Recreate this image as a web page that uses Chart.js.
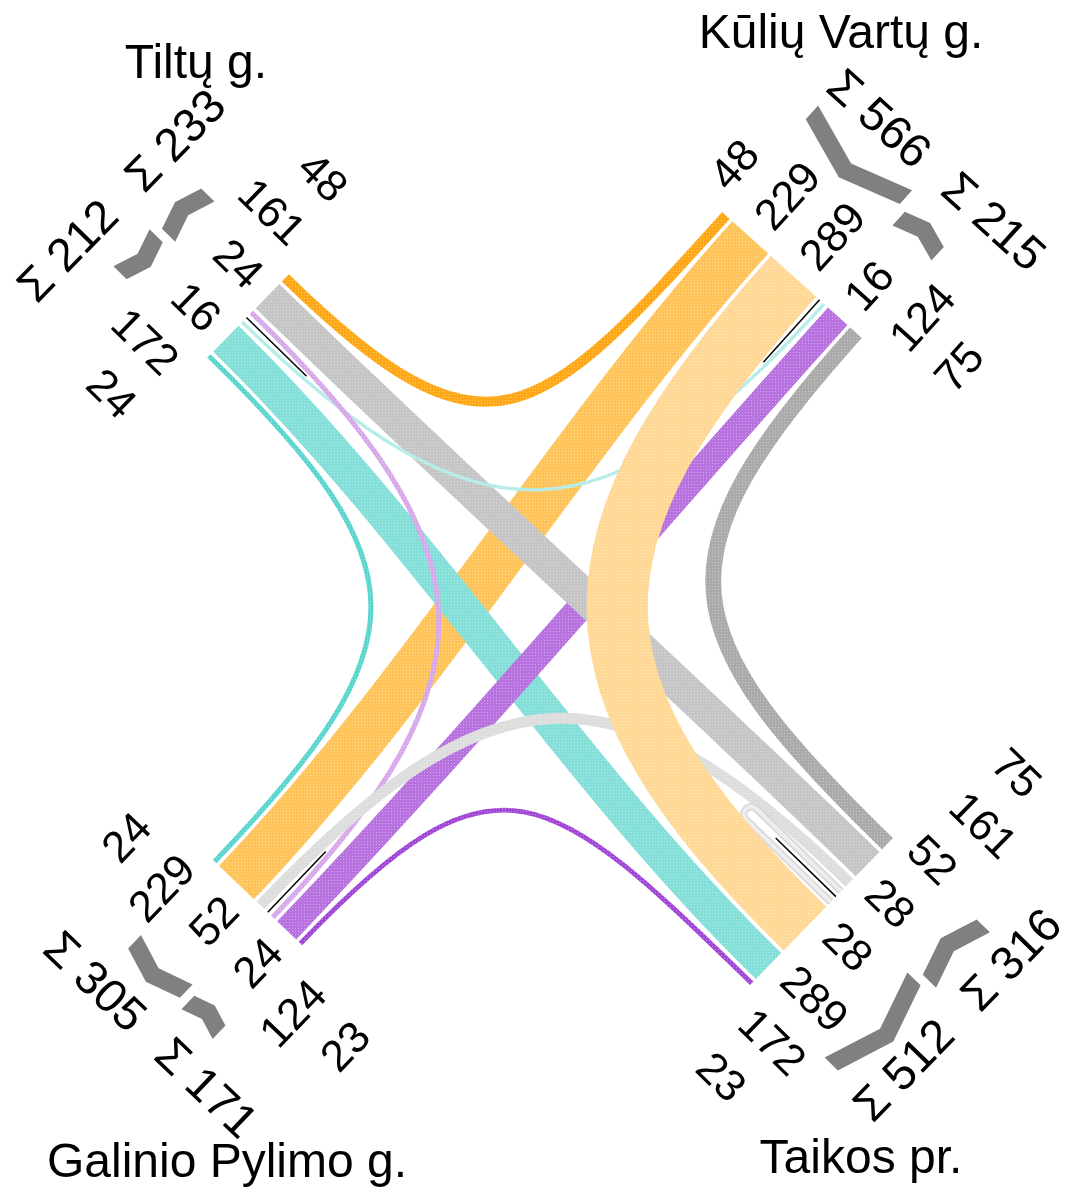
<!DOCTYPE html>
<html>
<head>
<meta charset="utf-8">
<title>Sankryžos srautai</title>
<script src="https://cdn.jsdelivr.net/npm/chart.js@4.4.1/dist/chart.umd.min.js"></script>
<style>
  html, body { margin: 0; padding: 0; background: #fff; }
  canvas { display: block; }
</style>
</head>
<body>
<canvas id="flows" width="1073" height="1192"></canvas>
<script>
// Arms of the junction
const ARM_KEYS = ['TL', 'TR', 'BL', 'BR'];
const ARM_NAMES = ['Tiltų g.', 'Kūlių Vartų g.', 'Galinio Pylimo g.', 'Taikos pr.'];

// Flows between two arms (vehicles)
const FLOW_FROM = ['TL', 'TL', 'TL', 'TL', 'TL', 'TL', 'TR', 'TR', 'TR', 'TR', 'BL', 'BL', 'BR'];
const FLOW_TO   = ['TR', 'BR', 'BL', 'TR', 'BR', 'BL', 'BL', 'BR', 'BL', 'BR', 'BR', 'BR', 'BR'];
const FLOW_VALUES = [48, 161, 24, 16, 172, 24, 229, 289, 124, 75, 52, 23, 28];
const FLOW_COLORS = ['#ffa817', '#c5c5c5', '#d7a8ea', '#b3ece9', '#83dfd8', '#5bd6cf',
                     '#ffc459', '#ffd896', '#b872e0', '#aaaaaa', '#dddddd', '#a147d7', '#ededed'];

// Lane order at the end of each arm: [one direction], [other direction]
const LANES_TL = [[0, 1, 2], [3, 4, 5]];
const LANES_TR = [[0, 6, 7], [3, 8, 9]];
const LANES_BL = [[5, 6, 10], [2, 8, 11]];
const LANES_BR = [[9, 1, 10, 12], [12, 7, 4, 11]];
const LANES = { TL: LANES_TL, TR: LANES_TR, BL: LANES_BL, BR: LANES_BR };

// Stacking order of the ribbons, bottom first
const DRAW_ORDER = [6, 4, 8, 1, 3, 0, 5, 2, 9, 11, 10, 12, 7];

// Layout
const W = 1073, H = 1192;
const SCALE = 0.2113, GAP = 3.5, MEDIAN = 9;
const BEND_K = 0.33, BEND_C = 135, UTURN_LEN = 118;
const LABEL_STEP = 60.5, LABEL_U = 19, SUM_U = 172, SUM_OFF = 77;
const CHEV_U = 104, CHEV_T = 18.5, CHEV_SLOPE = 0.33, MEDIAN_LINE = 84;
const GEOM = {
  TL: { end: [248, 316], u: [-0.7155, -0.6985], v: [0.6985, -0.7155] },
  TR: { end: [792, 275], u: [0.669, -0.743], v: [-0.743, -0.669] },
  BL: { end: [257.5, 902.5], u: [-0.691, 0.7235], v: [-0.7235, -0.691] },
  BR: { end: [821.5, 911.5], u: [0.717, 0.6975], v: [0.6975, -0.717] },
};
const TITLE_POS = [[196, 78], [841, 48], [227, 1177], [861, 1173]];
const FONT = '"Liberation Sans", Arial, sans-serif';

const add = (a, b, k = 1) => [a[0] + b[0] * k, a[1] + b[1] * k];
const at = (arm, u, v) => add(add(GEOM[arm].end, GEOM[arm].u, u), GEOM[arm].v, v);

function layoutArm(arm) {
  const groups = LANES[arm];
  const all = groups.flat();
  const width = all.reduce((s, f) => s + FLOW_VALUES[f] * SCALE, 0) + (all.length - 2) * GAP + MEDIAN;
  let cur = width / 2;
  const lanes = [], ext = [];
  groups.forEach((grp, gi) => {
    if (gi === 1) cur -= MEDIAN;
    const top = cur;
    grp.forEach((f, i) => {
      if (i > 0) cur -= GAP;
      const w = FLOW_VALUES[f] * SCALE;
      lanes.push({ flow: f, group: gi, idx: i, v: cur - w / 2 });
      cur -= w;
    });
    ext.push([top, cur]);
  });
  return { lanes, ext, median: (ext[0][1] + ext[1][0]) / 2 };
}
const ARM_LAYOUT = Object.fromEntries(ARM_KEYS.map(k => [k, layoutArm(k)]));

const ends = FLOW_VALUES.map(() => []);
ARM_KEYS.forEach(k => ARM_LAYOUT[k].lanes.forEach(l => ends[l.flow].push({ arm: k, p: at(k, 0, l.v) })));

function flowPoints(f) {
  const [a, b] = ends[f];
  const ua = GEOM[a.arm].u, ub = GEOM[b.arm].u, pa = a.p, pb = b.p;
  const dist = Math.hypot(pb[0] - pa[0], pb[1] - pa[1]);
  if (a.arm === b.arm) {
    const r = dist / 2;
    const qa = add(pa, ua, -UTURN_LEN), qb = add(pb, ub, -UTURN_LEN);
    return [pa, qa, add(qa, ua, -r * 4 / 3), add(qb, ub, -r * 4 / 3), qb, pb];
  }
  const det = -ua[0] * ub[1] + ub[0] * ua[1];
  const k = Math.abs(det) < 0.3 ? dist / 3 : BEND_K * dist + BEND_C;
  return [pa, add(pa, ua, -k), add(pb, ub, -k), pb];
}

const patterns = {};
function dotted(ctx, color) {
  if (!patterns[color]) {
    const c = document.createElement('canvas');
    c.width = c.height = 3;
    const g = c.getContext('2d');
    g.fillStyle = color; g.fillRect(0, 0, 3, 3);
    g.fillStyle = 'rgba(255,255,255,0.35)'; g.fillRect(1, 1, 1, 1);
    patterns[color] = ctx.createPattern(c, 'repeat');
  }
  return patterns[color];
}

const ribbons = {
  id: 'ribbons',
  afterDatasetsDraw(chart) {
    const { ctx, scales: { x } } = chart;
    const unit = Math.abs(x.getPixelForValue(1) - x.getPixelForValue(0));
    DRAW_ORDER.forEach(i => {
      const ds = chart.data.datasets[i];
      const pts = chart.getDatasetMeta(i).data.map(e => [e.x, e.y]);
      const width = ds.flowValue * SCALE * unit;
      ctx.save();
      ctx.beginPath();
      ctx.moveTo(...pts[0]);
      if (pts.length === 4) {
        ctx.bezierCurveTo(...pts[1], ...pts[2], ...pts[3]);
      } else {
        ctx.lineTo(...pts[1]);
        ctx.bezierCurveTo(...pts[2], ...pts[3], ...pts[4]);
        ctx.lineTo(...pts[5]);
      }
      ctx.lineCap = 'butt';
      ctx.lineJoin = 'round';
      ctx.lineWidth = width;
      if (pts.length !== 4) {
        ctx.strokeStyle = '#d8d8d8';
        ctx.lineWidth = width + 1.5;
        ctx.stroke();
        ctx.lineWidth = width - 2;
      }
      ctx.strokeStyle = dotted(ctx, ds.ribbonColor);
      ctx.stroke();
      ctx.restore();
    });
  }
};

function rotatedText(ctx, text, p, dir, align) {
  ctx.save();
  ctx.translate(p[0], p[1]);
  ctx.rotate(Math.atan2(dir[1], dir[0]));
  ctx.textAlign = align;
  ctx.fillText(text, 0, 0);
  ctx.restore();
}

const decorations = {
  id: 'decorations',
  afterDraw(chart) {
    const { ctx, scales: { x, y } } = chart;
    const px = (pt) => [x.getPixelForValue(pt[0]), y.getPixelForValue(pt[1])];
    ctx.save();
    ARM_KEYS.forEach((k, ai) => {
      const g = GEOM[k], lay = ARM_LAYOUT[k];
      const m = lay.median;

      // median line
      ctx.beginPath();
      ctx.moveTo(...px(at(k, 0, m)));
      ctx.lineTo(...px(at(k, -MEDIAN_LINE, m)));
      ctx.strokeStyle = '#000';
      ctx.lineWidth = 1.5;
      ctx.stroke();

      // direction chevrons
      const cross = g.u[0] * g.v[1] - g.u[1] * g.v[0];
      lay.ext.forEach(([top, bot], gi) => {
        const mid = (top + bot) / 2, d = CHEV_SLOPE * (top - bot) / 2;
        const out = (gi === 0) === (cross > 0);
        const eU = out ? CHEV_U : CHEV_U + d, aU = out ? CHEV_U + d : CHEV_U;
        const poly = [[eU, top], [aU, mid], [eU, bot], [eU + CHEV_T, bot], [aU + CHEV_T, mid], [eU + CHEV_T, top]];
        ctx.beginPath();
        poly.forEach(([u, v], i) => ctx[i ? 'lineTo' : 'moveTo'](...px(at(k, u, v))));
        ctx.closePath();
        ctx.fillStyle = '#808080';
        ctx.fill();
      });

      // lane values
      ctx.fillStyle = '#000';
      ctx.font = '44px ' + FONT;
      ctx.textBaseline = 'middle';
      const n0 = LANES[k][0].length;
      const outward = g.u[0] > 0;
      const tdir = outward ? g.u : [-g.u[0], -g.u[1]];
      lay.lanes.forEach(l => {
        const lv = l.group === 0 ? m + (n0 - l.idx - 0.5) * LABEL_STEP : m - (l.idx + 0.5) * LABEL_STEP;
        rotatedText(ctx, String(FLOW_VALUES[l.flow]), px(at(k, LABEL_U, lv)), tdir, outward ? 'left' : 'right');
      });

      // direction totals
      ctx.font = '47px ' + FONT;
      const sdir = g.v[0] > 0 ? g.v : [-g.v[0], -g.v[1]];
      LANES[k].forEach((grp, gi) => {
        const sum = grp.reduce((s, f) => s + FLOW_VALUES[f], 0);
        const sv = gi === 0 ? m + SUM_OFF : m - SUM_OFF;
        rotatedText(ctx, 'Σ ' + sum, px(at(k, SUM_U, sv)), sdir, 'center');
      });

      // street name
      ctx.font = '48px ' + FONT;
      ctx.textAlign = 'center';
      ctx.textBaseline = 'alphabetic';
      ctx.fillText(ARM_NAMES[ai], ...px(TITLE_POS[ai]));
    });
    ctx.restore();
  }
};

new Chart(document.getElementById('flows'), {
  type: 'scatter',
  data: {
    datasets: FLOW_VALUES.map((val, f) => ({
      label: FLOW_FROM[f] + '-' + FLOW_TO[f],
      data: flowPoints(f).map(([px, py]) => ({ x: px, y: py })),
      flowValue: val,
      ribbonColor: FLOW_COLORS[f],
      showLine: false,
      pointRadius: 0,
      pointHoverRadius: 0,
    })),
  },
  options: {
    responsive: false,
    animation: false,
    layout: { padding: 0 },
    plugins: { legend: { display: false }, tooltip: { enabled: false } },
    scales: {
      x: { type: 'linear', min: 0, max: W, display: false },
      y: { type: 'linear', min: 0, max: H, reverse: true, display: false },
    },
  },
  plugins: [ribbons, decorations],
});
</script>
</body>
</html>
